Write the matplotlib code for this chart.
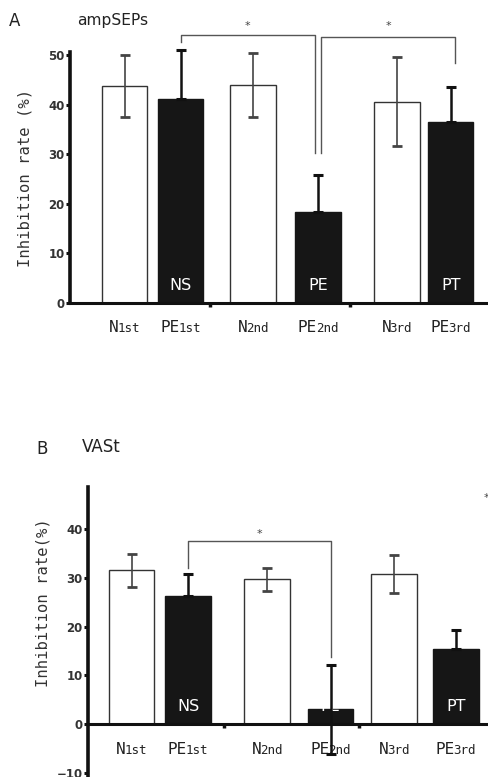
import matplotlib
matplotlib.use('Agg')
from matplotlib import pyplot as plt
from matplotlib.offsetbox import TextArea, HPacker, AnnotationBbox

# ---- data ----
groups = ['N', 'PE', 'N', 'PE', 'N', 'PE']
rounds = ['1st', '1st', '2nd', '2nd', '3rd', '3rd']
bar_tags = ['', 'NS', '', 'PE', '', 'PT']
filled = [False, True, False, True, False, True]

amp_mean = [43.7, 41.2, 43.9, 18.3, 40.6, 36.5]
amp_err_lo = [6.2, 0, 6.4, 0, 8.9, 0]
amp_err_hi = [6.2, 9.9, 6.5, 7.5, 8.9, 7.1]

vas_mean = [31.6, 26.3, 29.7, 3.0, 30.9, 15.5]
vas_err_lo = [3.4, 0, 2.4, 9.2, 3.9, 0]
vas_err_hi = [3.4, 4.5, 2.4, 9.2, 3.9, 3.7]

amp_yticks = [0, 10, 20, 30, 40, 50]
vas_yticks = [-10, 0, 10, 20, 30, 40]

# layout (bar centres in axis units)
pos_a = [0, 1.02, 2.34, 3.52, 4.95, 5.93]
pos_b = [0, 1.03, 2.46, 3.62, 4.77, 5.90]

W, H = 488, 777
fig = plt.figure(figsize=(W / 100, H / 100), dpi=100)

mono = 'DejaVu Sans Mono'
narrow = ['Liberation Sans Narrow', 'DejaVu Sans']


def group_label(ax, x, y, big, small):
    t1 = TextArea(big, textprops=dict(fontsize=11.5, color='#222', family=mono))
    t2 = TextArea(small, textprops=dict(fontsize=9, color='#222', family=mono))
    box = HPacker(children=[t1, t2], align='baseline', pad=0, sep=-1)
    ab = AnnotationBbox(box, (x, y), xycoords='data', frameon=False,
                        box_alignment=(0.5, 0.5), annotation_clip=False)
    ax.add_artist(ab)


def draw_panel(ax, pos, mean, lo, hi, yticks, label_y, tag_y):
    for i in range(len(mean)):
        if filled[i]:
            ax.bar(pos[i], mean[i], width=0.83, color='#161616', edgecolor='#161616', zorder=2)
            ax.errorbar(pos[i], mean[i], yerr=[[lo[i]], [hi[i]]], fmt='none',
                        ecolor='#111', elinewidth=1.8, capsize=3.5, capthick=2.2, zorder=4)
        else:
            ax.bar(pos[i], mean[i], width=0.83, color='white', edgecolor='#333',
                   linewidth=1.0, zorder=2)
            ax.errorbar(pos[i], mean[i], yerr=[[lo[i]], [hi[i]]], fmt='none',
                        ecolor='#444', elinewidth=1.2, capsize=3.5, capthick=2.0, zorder=4)
        if bar_tags[i]:
            ax.text(pos[i], tag_y, bar_tags[i], color='white', fontsize=11.5,
                    family=narrow, ha='center', va='center', zorder=3)
        group_label(ax, pos[i], label_y, groups[i], rounds[i])

    for s in ['top', 'right']:
        ax.spines[s].set_visible(False)
    ax.spines['left'].set_linewidth(2.6)
    ax.spines['bottom'].set_linewidth(2.2)
    ax.spines['left'].set_color('#111')
    ax.spines['bottom'].set_color('#111')
    ax.set_yticks(yticks)
    ax.tick_params(axis='y', direction='out', length=3, width=2.2, color='#111',
                   labelsize=8.5, labelcolor='#333', pad=1)
    for t in ax.get_yticklabels():
        t.set_fontweight('bold')
    ax.set_xticks([])


def bracket(ax, x0, x1, top, y0, y1, color='#555'):
    ax.plot([x0, x0, x1, x1], [y0, top, top, y1], color=color, lw=1.0,
            clip_on=False, zorder=5)


# ---- panel A ----
axA = fig.add_axes([70 / W, 1 - 303 / H, 1 - 70 / W, (303 - 15.3) / H])
axA.set_xlim(-0.991, 6.609)
axA.set_ylim(0, 58)
draw_panel(axA, pos_a, amp_mean, amp_err_lo, amp_err_hi, amp_yticks, -5.0, 3.5)
axA.spines['left'].set_bounds(0, 50.6)
axA.set_xticks([1.555, 4.1], minor=True)
axA.tick_params(axis='x', which='minor', direction='out', length=3, width=2.5, color='#111')
bracket(axA, pos_a[1], pos_a[3] - 0.06, 54.0, 52.6, 30.2)
bracket(axA, pos_a[3] + 0.06, pos_a[5] + 0.07, 53.7, 30.2, 48.3)
axA.text((pos_a[1] + pos_a[3] - 0.06) / 2, 55.9, '*', ha='center', va='center',
         fontsize=8, color='#444')
axA.text((pos_a[3] + pos_a[5] + 0.13) / 2, 55.9, '*', ha='center', va='center',
         fontsize=8, color='#444')

fig.text(15 / W, 1 - 21 / H, 'A', ha='center', va='center', fontsize=12,
         family=narrow, color='#222')
fig.text(77 / W, 1 - 21 / H, 'ampSEPs', ha='left', va='center', fontsize=11.2,
         family=narrow, color='#222')
fig.text(25.5 / W, 1 - 178 / H, 'Inhibition rate (%)', rotation=90, ha='center',
         va='center', fontsize=11.2, family=mono, color='#333')

# ---- panel B ----
y0_px, ppu = 724, 4.87
axB = fig.add_axes([88 / W, 1 - (y0_px + 10.6 * ppu) / H, 1 - 88 / W,
                    (10.6 + 52) * ppu / H])
axB.set_xlim(-0.791, 6.482)
axB.set_ylim(-10.6, 52)
draw_panel(axB, pos_b, vas_mean, vas_err_lo, vas_err_hi, vas_yticks, -5.3, 3.5)
axB.spines['bottom'].set_position(('data', 0))
axB.spines['left'].set_bounds(-10.6, 48.7)
axB.set_xticks([1.68, 4.14], minor=True)
axB.tick_params(axis='x', which='minor', direction='out', length=3, width=2.5, color='#111')
bracket(axB, pos_b[1], pos_b[3], 37.6, 32.0, 13.8)
axB.text((pos_b[1] + pos_b[3]) / 2, 38.0, '*', ha='center', va='bottom',
         fontsize=8, color='#444')
axB.text(6.45, 46.4, '*', ha='center', va='center', fontsize=8, color='#444',
         clip_on=False)

fig.text(42 / W, 1 - 449 / H, 'B', ha='center', va='center', fontsize=12,
         family=narrow, color='#222')
fig.text(82 / W, 1 - 447 / H, 'VASt', ha='left', va='center', fontsize=12,
         family=narrow, color='#222')
fig.text(43 / W, 1 - 603 / H, 'Inhibition rate(%)', rotation=90, ha='center',
         va='center', fontsize=11.2, family=mono, color='#333')

fig.savefig('out.png', dpi=100)
